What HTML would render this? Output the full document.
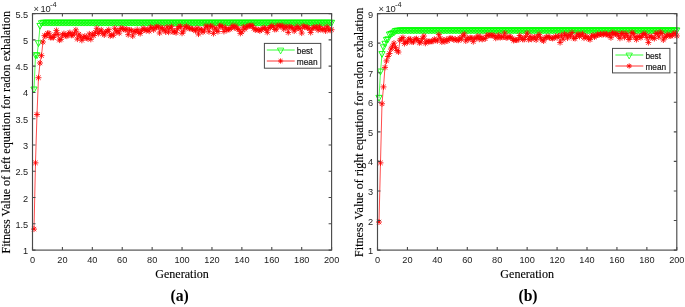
<!DOCTYPE html>
<html><head><meta charset="utf-8"><style>
html,body{margin:0;padding:0;background:#fff;}
svg{display:block;filter:blur(0.35px);}
.tl{font-family:"Liberation Sans", sans-serif;font-size:9.2px;fill:#1a1a1a;}
.lg{font-family:"Liberation Sans", sans-serif;font-size:8.3px;fill:#1a1a1a;stroke:#1a1a1a;stroke-width:0.2px;}
.lab{font-family:"Liberation Serif", serif;font-size:12.1px;fill:#000;stroke:#000;stroke-width:0.12px;}
.cap{font-family:"Liberation Serif", serif;font-size:15.7px;font-weight:bold;fill:#000;}
</style></head><body>
<svg width="685" height="307" viewBox="0 0 685 307">
<polyline points="34.00,89.81 35.49,55.64 36.99,55.64 38.48,43.56 39.98,26.21 41.47,23.59 42.97,23.06 44.46,23.06 45.96,23.06 47.45,23.06 48.95,23.06 50.45,23.06 51.94,23.06 53.44,23.06 54.93,23.06 56.43,23.06 57.92,23.06 59.42,23.06 60.91,23.06 62.41,23.06 63.91,23.06 65.40,23.06 66.90,23.06 68.39,23.06 69.89,23.06 71.38,23.06 72.88,23.06 74.37,23.06 75.87,23.06 77.37,23.06 78.86,23.06 80.36,23.06 81.85,23.06 83.35,23.06 84.84,23.06 86.34,23.06 87.83,23.06 89.33,23.06 90.82,23.06 92.32,23.06 93.82,23.06 95.31,23.06 96.81,23.06 98.30,23.06 99.80,23.06 101.29,23.06 102.79,23.06 104.28,23.06 105.78,23.06 107.28,23.06 108.77,23.06 110.27,23.06 111.76,23.06 113.26,23.06 114.75,23.06 116.25,23.06 117.74,23.06 119.24,23.06 120.73,23.06 122.23,23.06 123.73,23.06 125.22,23.06 126.72,23.06 128.21,23.06 129.71,23.06 131.20,23.06 132.70,23.06 134.19,23.06 135.69,23.06 137.19,23.06 138.68,23.06 140.18,23.06 141.67,23.06 143.17,23.06 144.66,23.06 146.16,23.06 147.65,23.06 149.15,23.06 150.64,23.06 152.14,23.06 153.64,23.06 155.13,23.06 156.63,23.06 158.12,23.06 159.62,23.06 161.11,23.06 162.61,23.06 164.10,23.06 165.60,23.06 167.10,23.06 168.59,23.06 170.09,23.06 171.58,23.06 173.08,23.06 174.57,23.06 176.07,23.06 177.56,23.06 179.06,23.06 180.55,23.06 182.05,23.06 183.55,23.06 185.04,23.06 186.54,23.06 188.03,23.06 189.53,23.06 191.02,23.06 192.52,23.06 194.01,23.06 195.51,23.06 197.00,23.06 198.50,23.06 200.00,23.06 201.49,23.06 202.99,23.06 204.48,23.06 205.98,23.06 207.47,23.06 208.97,23.06 210.46,23.06 211.96,23.06 213.46,23.06 214.95,23.06 216.45,23.06 217.94,23.06 219.44,23.06 220.93,23.06 222.43,23.06 223.92,23.06 225.42,23.06 226.91,23.06 228.41,23.06 229.91,23.06 231.40,23.06 232.90,23.06 234.39,23.06 235.89,23.06 237.38,23.06 238.88,23.06 240.37,23.06 241.87,23.06 243.37,23.06 244.86,23.06 246.36,23.06 247.85,23.06 249.35,23.06 250.84,23.06 252.34,23.06 253.83,23.06 255.33,23.06 256.82,23.06 258.32,23.06 259.82,23.06 261.31,23.06 262.81,23.06 264.30,23.06 265.80,23.06 267.29,23.06 268.79,23.06 270.28,23.06 271.78,23.06 273.28,23.06 274.77,23.06 276.27,23.06 277.76,23.06 279.26,23.06 280.75,23.06 282.25,23.06 283.74,23.06 285.24,23.06 286.74,23.06 288.23,23.06 289.73,23.06 291.22,23.06 292.72,23.06 294.21,23.06 295.71,23.06 297.20,23.06 298.70,23.06 300.19,23.06 301.69,23.06 303.19,23.06 304.68,23.06 306.18,23.06 307.67,23.06 309.17,23.06 310.66,23.06 312.16,23.06 313.65,23.06 315.15,23.06 316.65,23.06 318.14,23.06 319.64,23.06 321.13,23.06 322.63,23.06 324.12,23.06 325.62,23.06 327.11,23.06 328.61,23.06 330.10,23.06 331.60,23.06" fill="none" stroke="#00ff00" stroke-width="0.7"/>
<path d="M30.90 87.01h6.20l-3.10 5.80zM32.39 52.84h6.20l-3.10 5.80zM33.89 52.84h6.20l-3.10 5.80zM35.38 40.76h6.20l-3.10 5.80zM36.88 23.41h6.20l-3.10 5.80zM38.37 20.79h6.20l-3.10 5.80zM39.87 20.26h6.20l-3.10 5.80zM41.36 20.26h6.20l-3.10 5.80zM42.86 20.26h6.20l-3.10 5.80zM44.35 20.26h6.20l-3.10 5.80zM45.85 20.26h6.20l-3.10 5.80zM47.35 20.26h6.20l-3.10 5.80zM48.84 20.26h6.20l-3.10 5.80zM50.34 20.26h6.20l-3.10 5.80zM51.83 20.26h6.20l-3.10 5.80zM53.33 20.26h6.20l-3.10 5.80zM54.82 20.26h6.20l-3.10 5.80zM56.32 20.26h6.20l-3.10 5.80zM57.81 20.26h6.20l-3.10 5.80zM59.31 20.26h6.20l-3.10 5.80zM60.81 20.26h6.20l-3.10 5.80zM62.30 20.26h6.20l-3.10 5.80zM63.80 20.26h6.20l-3.10 5.80zM65.29 20.26h6.20l-3.10 5.80zM66.79 20.26h6.20l-3.10 5.80zM68.28 20.26h6.20l-3.10 5.80zM69.78 20.26h6.20l-3.10 5.80zM71.27 20.26h6.20l-3.10 5.80zM72.77 20.26h6.20l-3.10 5.80zM74.27 20.26h6.20l-3.10 5.80zM75.76 20.26h6.20l-3.10 5.80zM77.26 20.26h6.20l-3.10 5.80zM78.75 20.26h6.20l-3.10 5.80zM80.25 20.26h6.20l-3.10 5.80zM81.74 20.26h6.20l-3.10 5.80zM83.24 20.26h6.20l-3.10 5.80zM84.73 20.26h6.20l-3.10 5.80zM86.23 20.26h6.20l-3.10 5.80zM87.72 20.26h6.20l-3.10 5.80zM89.22 20.26h6.20l-3.10 5.80zM90.72 20.26h6.20l-3.10 5.80zM92.21 20.26h6.20l-3.10 5.80zM93.71 20.26h6.20l-3.10 5.80zM95.20 20.26h6.20l-3.10 5.80zM96.70 20.26h6.20l-3.10 5.80zM98.19 20.26h6.20l-3.10 5.80zM99.69 20.26h6.20l-3.10 5.80zM101.18 20.26h6.20l-3.10 5.80zM102.68 20.26h6.20l-3.10 5.80zM104.18 20.26h6.20l-3.10 5.80zM105.67 20.26h6.20l-3.10 5.80zM107.17 20.26h6.20l-3.10 5.80zM108.66 20.26h6.20l-3.10 5.80zM110.16 20.26h6.20l-3.10 5.80zM111.65 20.26h6.20l-3.10 5.80zM113.15 20.26h6.20l-3.10 5.80zM114.64 20.26h6.20l-3.10 5.80zM116.14 20.26h6.20l-3.10 5.80zM117.63 20.26h6.20l-3.10 5.80zM119.13 20.26h6.20l-3.10 5.80zM120.63 20.26h6.20l-3.10 5.80zM122.12 20.26h6.20l-3.10 5.80zM123.62 20.26h6.20l-3.10 5.80zM125.11 20.26h6.20l-3.10 5.80zM126.61 20.26h6.20l-3.10 5.80zM128.10 20.26h6.20l-3.10 5.80zM129.60 20.26h6.20l-3.10 5.80zM131.09 20.26h6.20l-3.10 5.80zM132.59 20.26h6.20l-3.10 5.80zM134.09 20.26h6.20l-3.10 5.80zM135.58 20.26h6.20l-3.10 5.80zM137.08 20.26h6.20l-3.10 5.80zM138.57 20.26h6.20l-3.10 5.80zM140.07 20.26h6.20l-3.10 5.80zM141.56 20.26h6.20l-3.10 5.80zM143.06 20.26h6.20l-3.10 5.80zM144.55 20.26h6.20l-3.10 5.80zM146.05 20.26h6.20l-3.10 5.80zM147.54 20.26h6.20l-3.10 5.80zM149.04 20.26h6.20l-3.10 5.80zM150.54 20.26h6.20l-3.10 5.80zM152.03 20.26h6.20l-3.10 5.80zM153.53 20.26h6.20l-3.10 5.80zM155.02 20.26h6.20l-3.10 5.80zM156.52 20.26h6.20l-3.10 5.80zM158.01 20.26h6.20l-3.10 5.80zM159.51 20.26h6.20l-3.10 5.80zM161.00 20.26h6.20l-3.10 5.80zM162.50 20.26h6.20l-3.10 5.80zM164.00 20.26h6.20l-3.10 5.80zM165.49 20.26h6.20l-3.10 5.80zM166.99 20.26h6.20l-3.10 5.80zM168.48 20.26h6.20l-3.10 5.80zM169.98 20.26h6.20l-3.10 5.80zM171.47 20.26h6.20l-3.10 5.80zM172.97 20.26h6.20l-3.10 5.80zM174.46 20.26h6.20l-3.10 5.80zM175.96 20.26h6.20l-3.10 5.80zM177.45 20.26h6.20l-3.10 5.80zM178.95 20.26h6.20l-3.10 5.80zM180.45 20.26h6.20l-3.10 5.80zM181.94 20.26h6.20l-3.10 5.80zM183.44 20.26h6.20l-3.10 5.80zM184.93 20.26h6.20l-3.10 5.80zM186.43 20.26h6.20l-3.10 5.80zM187.92 20.26h6.20l-3.10 5.80zM189.42 20.26h6.20l-3.10 5.80zM190.91 20.26h6.20l-3.10 5.80zM192.41 20.26h6.20l-3.10 5.80zM193.91 20.26h6.20l-3.10 5.80zM195.40 20.26h6.20l-3.10 5.80zM196.90 20.26h6.20l-3.10 5.80zM198.39 20.26h6.20l-3.10 5.80zM199.89 20.26h6.20l-3.10 5.80zM201.38 20.26h6.20l-3.10 5.80zM202.88 20.26h6.20l-3.10 5.80zM204.37 20.26h6.20l-3.10 5.80zM205.87 20.26h6.20l-3.10 5.80zM207.36 20.26h6.20l-3.10 5.80zM208.86 20.26h6.20l-3.10 5.80zM210.36 20.26h6.20l-3.10 5.80zM211.85 20.26h6.20l-3.10 5.80zM213.35 20.26h6.20l-3.10 5.80zM214.84 20.26h6.20l-3.10 5.80zM216.34 20.26h6.20l-3.10 5.80zM217.83 20.26h6.20l-3.10 5.80zM219.33 20.26h6.20l-3.10 5.80zM220.82 20.26h6.20l-3.10 5.80zM222.32 20.26h6.20l-3.10 5.80zM223.81 20.26h6.20l-3.10 5.80zM225.31 20.26h6.20l-3.10 5.80zM226.81 20.26h6.20l-3.10 5.80zM228.30 20.26h6.20l-3.10 5.80zM229.80 20.26h6.20l-3.10 5.80zM231.29 20.26h6.20l-3.10 5.80zM232.79 20.26h6.20l-3.10 5.80zM234.28 20.26h6.20l-3.10 5.80zM235.78 20.26h6.20l-3.10 5.80zM237.27 20.26h6.20l-3.10 5.80zM238.77 20.26h6.20l-3.10 5.80zM240.27 20.26h6.20l-3.10 5.80zM241.76 20.26h6.20l-3.10 5.80zM243.26 20.26h6.20l-3.10 5.80zM244.75 20.26h6.20l-3.10 5.80zM246.25 20.26h6.20l-3.10 5.80zM247.74 20.26h6.20l-3.10 5.80zM249.24 20.26h6.20l-3.10 5.80zM250.73 20.26h6.20l-3.10 5.80zM252.23 20.26h6.20l-3.10 5.80zM253.72 20.26h6.20l-3.10 5.80zM255.22 20.26h6.20l-3.10 5.80zM256.72 20.26h6.20l-3.10 5.80zM258.21 20.26h6.20l-3.10 5.80zM259.71 20.26h6.20l-3.10 5.80zM261.20 20.26h6.20l-3.10 5.80zM262.70 20.26h6.20l-3.10 5.80zM264.19 20.26h6.20l-3.10 5.80zM265.69 20.26h6.20l-3.10 5.80zM267.18 20.26h6.20l-3.10 5.80zM268.68 20.26h6.20l-3.10 5.80zM270.18 20.26h6.20l-3.10 5.80zM271.67 20.26h6.20l-3.10 5.80zM273.17 20.26h6.20l-3.10 5.80zM274.66 20.26h6.20l-3.10 5.80zM276.16 20.26h6.20l-3.10 5.80zM277.65 20.26h6.20l-3.10 5.80zM279.15 20.26h6.20l-3.10 5.80zM280.64 20.26h6.20l-3.10 5.80zM282.14 20.26h6.20l-3.10 5.80zM283.63 20.26h6.20l-3.10 5.80zM285.13 20.26h6.20l-3.10 5.80zM286.63 20.26h6.20l-3.10 5.80zM288.12 20.26h6.20l-3.10 5.80zM289.62 20.26h6.20l-3.10 5.80zM291.11 20.26h6.20l-3.10 5.80zM292.61 20.26h6.20l-3.10 5.80zM294.10 20.26h6.20l-3.10 5.80zM295.60 20.26h6.20l-3.10 5.80zM297.09 20.26h6.20l-3.10 5.80zM298.59 20.26h6.20l-3.10 5.80zM300.09 20.26h6.20l-3.10 5.80zM301.58 20.26h6.20l-3.10 5.80zM303.08 20.26h6.20l-3.10 5.80zM304.57 20.26h6.20l-3.10 5.80zM306.07 20.26h6.20l-3.10 5.80zM307.56 20.26h6.20l-3.10 5.80zM309.06 20.26h6.20l-3.10 5.80zM310.55 20.26h6.20l-3.10 5.80zM312.05 20.26h6.20l-3.10 5.80zM313.55 20.26h6.20l-3.10 5.80zM315.04 20.26h6.20l-3.10 5.80zM316.54 20.26h6.20l-3.10 5.80zM318.03 20.26h6.20l-3.10 5.80zM319.53 20.26h6.20l-3.10 5.80zM321.02 20.26h6.20l-3.10 5.80zM322.52 20.26h6.20l-3.10 5.80zM324.01 20.26h6.20l-3.10 5.80zM325.51 20.26h6.20l-3.10 5.80zM327.00 20.26h6.20l-3.10 5.80zM328.50 20.26h6.20l-3.10 5.80z" fill="none" stroke="#00ff00" stroke-width="0.9"/>
<polyline points="34.00,229.08 35.49,162.86 36.99,114.51 38.48,77.72 39.98,63.00 41.47,55.64 42.97,41.98 44.46,35.67 45.96,36.04 47.45,33.33 48.95,33.23 50.45,37.43 51.94,37.42 53.44,37.50 54.93,34.57 56.43,30.42 57.92,34.33 59.42,40.11 60.91,39.35 62.41,34.97 63.91,33.56 65.40,35.60 66.90,36.20 68.39,33.67 69.89,32.62 71.38,35.31 72.88,35.15 74.37,33.21 75.87,29.89 77.37,39.10 78.86,34.17 80.36,36.72 81.85,40.30 83.35,37.37 84.84,36.14 86.34,38.09 87.83,38.55 89.33,33.89 90.82,39.35 92.32,34.18 93.82,35.53 95.31,32.27 96.81,28.32 98.30,33.56 99.80,31.23 101.29,29.85 102.79,33.34 104.28,35.00 105.78,31.84 107.28,31.30 108.77,29.66 110.27,35.81 111.76,34.84 113.26,35.34 114.75,28.32 116.25,31.96 117.74,30.50 119.24,33.10 120.73,28.39 122.23,28.41 123.73,29.25 125.22,29.77 126.72,29.10 128.21,34.66 129.71,30.00 131.20,30.19 132.70,36.06 134.19,31.21 135.69,31.77 137.19,29.55 138.68,32.41 140.18,33.57 141.67,30.64 143.17,28.32 144.66,29.58 146.16,30.60 147.65,29.37 149.15,31.16 150.64,27.15 152.14,27.97 153.64,29.92 155.13,27.79 156.63,26.84 158.12,26.82 159.62,32.99 161.11,27.75 162.61,28.20 164.10,30.06 165.60,31.84 167.10,27.06 168.59,32.21 170.09,28.04 171.58,26.62 173.08,31.99 174.57,31.11 176.07,32.73 177.56,28.67 179.06,26.51 180.55,26.49 182.05,33.26 183.55,31.00 185.04,27.14 186.54,26.40 188.03,27.84 189.53,28.32 191.02,28.58 192.52,29.05 194.01,29.73 195.51,30.70 197.00,28.14 198.50,34.10 200.00,29.08 201.49,29.79 202.99,32.09 204.48,29.97 205.98,26.12 207.47,27.00 208.97,31.74 210.46,26.05 211.96,26.39 213.46,33.57 214.95,27.95 216.45,30.01 217.94,31.60 219.44,25.90 220.93,25.87 222.43,27.00 223.92,31.47 225.42,27.41 226.91,30.12 228.41,29.26 229.91,29.12 231.40,27.64 232.90,25.75 234.39,27.65 235.89,26.30 237.38,28.85 238.88,29.37 240.37,33.35 241.87,31.85 243.37,27.01 244.86,29.14 246.36,26.92 247.85,26.46 249.35,25.71 250.84,25.73 252.34,25.73 253.83,28.32 255.33,29.92 256.82,29.37 258.32,29.71 259.82,30.87 261.31,29.64 262.81,28.39 264.30,27.67 265.80,29.27 267.29,32.35 268.79,28.05 270.28,27.30 271.78,25.65 273.28,26.69 274.77,29.46 276.27,29.21 277.76,25.65 279.26,25.65 280.75,26.48 282.25,25.64 283.74,29.06 285.24,27.28 286.74,26.78 288.23,32.52 289.73,26.64 291.22,27.36 292.72,27.94 294.21,31.08 295.71,28.87 297.20,26.48 298.70,27.99 300.19,28.70 301.69,33.05 303.19,26.00 304.68,26.99 306.18,27.15 307.67,27.26 309.17,28.82 310.66,32.52 312.16,28.82 313.65,27.21 315.15,27.59 316.65,27.02 318.14,30.15 319.64,26.59 321.13,29.32 322.63,29.53 324.12,28.54 325.62,30.94 327.11,26.74 328.61,29.13 330.10,30.25 331.60,29.72" fill="none" stroke="#ff0000" stroke-width="0.7"/>
<path d="M31.00 229.08h6m-3 -3v6m-2.2 -5.2l4.4 4.4m0 -4.4l-4.4 4.4M32.49 162.86h6m-3 -3v6m-2.2 -5.2l4.4 4.4m0 -4.4l-4.4 4.4M33.99 114.51h6m-3 -3v6m-2.2 -5.2l4.4 4.4m0 -4.4l-4.4 4.4M35.48 77.72h6m-3 -3v6m-2.2 -5.2l4.4 4.4m0 -4.4l-4.4 4.4M36.98 63.00h6m-3 -3v6m-2.2 -5.2l4.4 4.4m0 -4.4l-4.4 4.4M38.47 55.64h6m-3 -3v6m-2.2 -5.2l4.4 4.4m0 -4.4l-4.4 4.4M39.97 41.98h6m-3 -3v6m-2.2 -5.2l4.4 4.4m0 -4.4l-4.4 4.4M41.46 35.67h6m-3 -3v6m-2.2 -5.2l4.4 4.4m0 -4.4l-4.4 4.4M42.96 36.04h6m-3 -3v6m-2.2 -5.2l4.4 4.4m0 -4.4l-4.4 4.4M44.45 33.33h6m-3 -3v6m-2.2 -5.2l4.4 4.4m0 -4.4l-4.4 4.4M45.95 33.23h6m-3 -3v6m-2.2 -5.2l4.4 4.4m0 -4.4l-4.4 4.4M47.45 37.43h6m-3 -3v6m-2.2 -5.2l4.4 4.4m0 -4.4l-4.4 4.4M48.94 37.42h6m-3 -3v6m-2.2 -5.2l4.4 4.4m0 -4.4l-4.4 4.4M50.44 37.50h6m-3 -3v6m-2.2 -5.2l4.4 4.4m0 -4.4l-4.4 4.4M51.93 34.57h6m-3 -3v6m-2.2 -5.2l4.4 4.4m0 -4.4l-4.4 4.4M53.43 30.42h6m-3 -3v6m-2.2 -5.2l4.4 4.4m0 -4.4l-4.4 4.4M54.92 34.33h6m-3 -3v6m-2.2 -5.2l4.4 4.4m0 -4.4l-4.4 4.4M56.42 40.11h6m-3 -3v6m-2.2 -5.2l4.4 4.4m0 -4.4l-4.4 4.4M57.91 39.35h6m-3 -3v6m-2.2 -5.2l4.4 4.4m0 -4.4l-4.4 4.4M59.41 34.97h6m-3 -3v6m-2.2 -5.2l4.4 4.4m0 -4.4l-4.4 4.4M60.91 33.56h6m-3 -3v6m-2.2 -5.2l4.4 4.4m0 -4.4l-4.4 4.4M62.40 35.60h6m-3 -3v6m-2.2 -5.2l4.4 4.4m0 -4.4l-4.4 4.4M63.90 36.20h6m-3 -3v6m-2.2 -5.2l4.4 4.4m0 -4.4l-4.4 4.4M65.39 33.67h6m-3 -3v6m-2.2 -5.2l4.4 4.4m0 -4.4l-4.4 4.4M66.89 32.62h6m-3 -3v6m-2.2 -5.2l4.4 4.4m0 -4.4l-4.4 4.4M68.38 35.31h6m-3 -3v6m-2.2 -5.2l4.4 4.4m0 -4.4l-4.4 4.4M69.88 35.15h6m-3 -3v6m-2.2 -5.2l4.4 4.4m0 -4.4l-4.4 4.4M71.37 33.21h6m-3 -3v6m-2.2 -5.2l4.4 4.4m0 -4.4l-4.4 4.4M72.87 29.89h6m-3 -3v6m-2.2 -5.2l4.4 4.4m0 -4.4l-4.4 4.4M74.37 39.10h6m-3 -3v6m-2.2 -5.2l4.4 4.4m0 -4.4l-4.4 4.4M75.86 34.17h6m-3 -3v6m-2.2 -5.2l4.4 4.4m0 -4.4l-4.4 4.4M77.36 36.72h6m-3 -3v6m-2.2 -5.2l4.4 4.4m0 -4.4l-4.4 4.4M78.85 40.30h6m-3 -3v6m-2.2 -5.2l4.4 4.4m0 -4.4l-4.4 4.4M80.35 37.37h6m-3 -3v6m-2.2 -5.2l4.4 4.4m0 -4.4l-4.4 4.4M81.84 36.14h6m-3 -3v6m-2.2 -5.2l4.4 4.4m0 -4.4l-4.4 4.4M83.34 38.09h6m-3 -3v6m-2.2 -5.2l4.4 4.4m0 -4.4l-4.4 4.4M84.83 38.55h6m-3 -3v6m-2.2 -5.2l4.4 4.4m0 -4.4l-4.4 4.4M86.33 33.89h6m-3 -3v6m-2.2 -5.2l4.4 4.4m0 -4.4l-4.4 4.4M87.82 39.35h6m-3 -3v6m-2.2 -5.2l4.4 4.4m0 -4.4l-4.4 4.4M89.32 34.18h6m-3 -3v6m-2.2 -5.2l4.4 4.4m0 -4.4l-4.4 4.4M90.82 35.53h6m-3 -3v6m-2.2 -5.2l4.4 4.4m0 -4.4l-4.4 4.4M92.31 32.27h6m-3 -3v6m-2.2 -5.2l4.4 4.4m0 -4.4l-4.4 4.4M93.81 28.32h6m-3 -3v6m-2.2 -5.2l4.4 4.4m0 -4.4l-4.4 4.4M95.30 33.56h6m-3 -3v6m-2.2 -5.2l4.4 4.4m0 -4.4l-4.4 4.4M96.80 31.23h6m-3 -3v6m-2.2 -5.2l4.4 4.4m0 -4.4l-4.4 4.4M98.29 29.85h6m-3 -3v6m-2.2 -5.2l4.4 4.4m0 -4.4l-4.4 4.4M99.79 33.34h6m-3 -3v6m-2.2 -5.2l4.4 4.4m0 -4.4l-4.4 4.4M101.28 35.00h6m-3 -3v6m-2.2 -5.2l4.4 4.4m0 -4.4l-4.4 4.4M102.78 31.84h6m-3 -3v6m-2.2 -5.2l4.4 4.4m0 -4.4l-4.4 4.4M104.28 31.30h6m-3 -3v6m-2.2 -5.2l4.4 4.4m0 -4.4l-4.4 4.4M105.77 29.66h6m-3 -3v6m-2.2 -5.2l4.4 4.4m0 -4.4l-4.4 4.4M107.27 35.81h6m-3 -3v6m-2.2 -5.2l4.4 4.4m0 -4.4l-4.4 4.4M108.76 34.84h6m-3 -3v6m-2.2 -5.2l4.4 4.4m0 -4.4l-4.4 4.4M110.26 35.34h6m-3 -3v6m-2.2 -5.2l4.4 4.4m0 -4.4l-4.4 4.4M111.75 28.32h6m-3 -3v6m-2.2 -5.2l4.4 4.4m0 -4.4l-4.4 4.4M113.25 31.96h6m-3 -3v6m-2.2 -5.2l4.4 4.4m0 -4.4l-4.4 4.4M114.74 30.50h6m-3 -3v6m-2.2 -5.2l4.4 4.4m0 -4.4l-4.4 4.4M116.24 33.10h6m-3 -3v6m-2.2 -5.2l4.4 4.4m0 -4.4l-4.4 4.4M117.73 28.39h6m-3 -3v6m-2.2 -5.2l4.4 4.4m0 -4.4l-4.4 4.4M119.23 28.41h6m-3 -3v6m-2.2 -5.2l4.4 4.4m0 -4.4l-4.4 4.4M120.73 29.25h6m-3 -3v6m-2.2 -5.2l4.4 4.4m0 -4.4l-4.4 4.4M122.22 29.77h6m-3 -3v6m-2.2 -5.2l4.4 4.4m0 -4.4l-4.4 4.4M123.72 29.10h6m-3 -3v6m-2.2 -5.2l4.4 4.4m0 -4.4l-4.4 4.4M125.21 34.66h6m-3 -3v6m-2.2 -5.2l4.4 4.4m0 -4.4l-4.4 4.4M126.71 30.00h6m-3 -3v6m-2.2 -5.2l4.4 4.4m0 -4.4l-4.4 4.4M128.20 30.19h6m-3 -3v6m-2.2 -5.2l4.4 4.4m0 -4.4l-4.4 4.4M129.70 36.06h6m-3 -3v6m-2.2 -5.2l4.4 4.4m0 -4.4l-4.4 4.4M131.19 31.21h6m-3 -3v6m-2.2 -5.2l4.4 4.4m0 -4.4l-4.4 4.4M132.69 31.77h6m-3 -3v6m-2.2 -5.2l4.4 4.4m0 -4.4l-4.4 4.4M134.19 29.55h6m-3 -3v6m-2.2 -5.2l4.4 4.4m0 -4.4l-4.4 4.4M135.68 32.41h6m-3 -3v6m-2.2 -5.2l4.4 4.4m0 -4.4l-4.4 4.4M137.18 33.57h6m-3 -3v6m-2.2 -5.2l4.4 4.4m0 -4.4l-4.4 4.4M138.67 30.64h6m-3 -3v6m-2.2 -5.2l4.4 4.4m0 -4.4l-4.4 4.4M140.17 28.32h6m-3 -3v6m-2.2 -5.2l4.4 4.4m0 -4.4l-4.4 4.4M141.66 29.58h6m-3 -3v6m-2.2 -5.2l4.4 4.4m0 -4.4l-4.4 4.4M143.16 30.60h6m-3 -3v6m-2.2 -5.2l4.4 4.4m0 -4.4l-4.4 4.4M144.65 29.37h6m-3 -3v6m-2.2 -5.2l4.4 4.4m0 -4.4l-4.4 4.4M146.15 31.16h6m-3 -3v6m-2.2 -5.2l4.4 4.4m0 -4.4l-4.4 4.4M147.64 27.15h6m-3 -3v6m-2.2 -5.2l4.4 4.4m0 -4.4l-4.4 4.4M149.14 27.97h6m-3 -3v6m-2.2 -5.2l4.4 4.4m0 -4.4l-4.4 4.4M150.64 29.92h6m-3 -3v6m-2.2 -5.2l4.4 4.4m0 -4.4l-4.4 4.4M152.13 27.79h6m-3 -3v6m-2.2 -5.2l4.4 4.4m0 -4.4l-4.4 4.4M153.63 26.84h6m-3 -3v6m-2.2 -5.2l4.4 4.4m0 -4.4l-4.4 4.4M155.12 26.82h6m-3 -3v6m-2.2 -5.2l4.4 4.4m0 -4.4l-4.4 4.4M156.62 32.99h6m-3 -3v6m-2.2 -5.2l4.4 4.4m0 -4.4l-4.4 4.4M158.11 27.75h6m-3 -3v6m-2.2 -5.2l4.4 4.4m0 -4.4l-4.4 4.4M159.61 28.20h6m-3 -3v6m-2.2 -5.2l4.4 4.4m0 -4.4l-4.4 4.4M161.10 30.06h6m-3 -3v6m-2.2 -5.2l4.4 4.4m0 -4.4l-4.4 4.4M162.60 31.84h6m-3 -3v6m-2.2 -5.2l4.4 4.4m0 -4.4l-4.4 4.4M164.10 27.06h6m-3 -3v6m-2.2 -5.2l4.4 4.4m0 -4.4l-4.4 4.4M165.59 32.21h6m-3 -3v6m-2.2 -5.2l4.4 4.4m0 -4.4l-4.4 4.4M167.09 28.04h6m-3 -3v6m-2.2 -5.2l4.4 4.4m0 -4.4l-4.4 4.4M168.58 26.62h6m-3 -3v6m-2.2 -5.2l4.4 4.4m0 -4.4l-4.4 4.4M170.08 31.99h6m-3 -3v6m-2.2 -5.2l4.4 4.4m0 -4.4l-4.4 4.4M171.57 31.11h6m-3 -3v6m-2.2 -5.2l4.4 4.4m0 -4.4l-4.4 4.4M173.07 32.73h6m-3 -3v6m-2.2 -5.2l4.4 4.4m0 -4.4l-4.4 4.4M174.56 28.67h6m-3 -3v6m-2.2 -5.2l4.4 4.4m0 -4.4l-4.4 4.4M176.06 26.51h6m-3 -3v6m-2.2 -5.2l4.4 4.4m0 -4.4l-4.4 4.4M177.55 26.49h6m-3 -3v6m-2.2 -5.2l4.4 4.4m0 -4.4l-4.4 4.4M179.05 33.26h6m-3 -3v6m-2.2 -5.2l4.4 4.4m0 -4.4l-4.4 4.4M180.55 31.00h6m-3 -3v6m-2.2 -5.2l4.4 4.4m0 -4.4l-4.4 4.4M182.04 27.14h6m-3 -3v6m-2.2 -5.2l4.4 4.4m0 -4.4l-4.4 4.4M183.54 26.40h6m-3 -3v6m-2.2 -5.2l4.4 4.4m0 -4.4l-4.4 4.4M185.03 27.84h6m-3 -3v6m-2.2 -5.2l4.4 4.4m0 -4.4l-4.4 4.4M186.53 28.32h6m-3 -3v6m-2.2 -5.2l4.4 4.4m0 -4.4l-4.4 4.4M188.02 28.58h6m-3 -3v6m-2.2 -5.2l4.4 4.4m0 -4.4l-4.4 4.4M189.52 29.05h6m-3 -3v6m-2.2 -5.2l4.4 4.4m0 -4.4l-4.4 4.4M191.01 29.73h6m-3 -3v6m-2.2 -5.2l4.4 4.4m0 -4.4l-4.4 4.4M192.51 30.70h6m-3 -3v6m-2.2 -5.2l4.4 4.4m0 -4.4l-4.4 4.4M194.00 28.14h6m-3 -3v6m-2.2 -5.2l4.4 4.4m0 -4.4l-4.4 4.4M195.50 34.10h6m-3 -3v6m-2.2 -5.2l4.4 4.4m0 -4.4l-4.4 4.4M197.00 29.08h6m-3 -3v6m-2.2 -5.2l4.4 4.4m0 -4.4l-4.4 4.4M198.49 29.79h6m-3 -3v6m-2.2 -5.2l4.4 4.4m0 -4.4l-4.4 4.4M199.99 32.09h6m-3 -3v6m-2.2 -5.2l4.4 4.4m0 -4.4l-4.4 4.4M201.48 29.97h6m-3 -3v6m-2.2 -5.2l4.4 4.4m0 -4.4l-4.4 4.4M202.98 26.12h6m-3 -3v6m-2.2 -5.2l4.4 4.4m0 -4.4l-4.4 4.4M204.47 27.00h6m-3 -3v6m-2.2 -5.2l4.4 4.4m0 -4.4l-4.4 4.4M205.97 31.74h6m-3 -3v6m-2.2 -5.2l4.4 4.4m0 -4.4l-4.4 4.4M207.46 26.05h6m-3 -3v6m-2.2 -5.2l4.4 4.4m0 -4.4l-4.4 4.4M208.96 26.39h6m-3 -3v6m-2.2 -5.2l4.4 4.4m0 -4.4l-4.4 4.4M210.46 33.57h6m-3 -3v6m-2.2 -5.2l4.4 4.4m0 -4.4l-4.4 4.4M211.95 27.95h6m-3 -3v6m-2.2 -5.2l4.4 4.4m0 -4.4l-4.4 4.4M213.45 30.01h6m-3 -3v6m-2.2 -5.2l4.4 4.4m0 -4.4l-4.4 4.4M214.94 31.60h6m-3 -3v6m-2.2 -5.2l4.4 4.4m0 -4.4l-4.4 4.4M216.44 25.90h6m-3 -3v6m-2.2 -5.2l4.4 4.4m0 -4.4l-4.4 4.4M217.93 25.87h6m-3 -3v6m-2.2 -5.2l4.4 4.4m0 -4.4l-4.4 4.4M219.43 27.00h6m-3 -3v6m-2.2 -5.2l4.4 4.4m0 -4.4l-4.4 4.4M220.92 31.47h6m-3 -3v6m-2.2 -5.2l4.4 4.4m0 -4.4l-4.4 4.4M222.42 27.41h6m-3 -3v6m-2.2 -5.2l4.4 4.4m0 -4.4l-4.4 4.4M223.91 30.12h6m-3 -3v6m-2.2 -5.2l4.4 4.4m0 -4.4l-4.4 4.4M225.41 29.26h6m-3 -3v6m-2.2 -5.2l4.4 4.4m0 -4.4l-4.4 4.4M226.91 29.12h6m-3 -3v6m-2.2 -5.2l4.4 4.4m0 -4.4l-4.4 4.4M228.40 27.64h6m-3 -3v6m-2.2 -5.2l4.4 4.4m0 -4.4l-4.4 4.4M229.90 25.75h6m-3 -3v6m-2.2 -5.2l4.4 4.4m0 -4.4l-4.4 4.4M231.39 27.65h6m-3 -3v6m-2.2 -5.2l4.4 4.4m0 -4.4l-4.4 4.4M232.89 26.30h6m-3 -3v6m-2.2 -5.2l4.4 4.4m0 -4.4l-4.4 4.4M234.38 28.85h6m-3 -3v6m-2.2 -5.2l4.4 4.4m0 -4.4l-4.4 4.4M235.88 29.37h6m-3 -3v6m-2.2 -5.2l4.4 4.4m0 -4.4l-4.4 4.4M237.37 33.35h6m-3 -3v6m-2.2 -5.2l4.4 4.4m0 -4.4l-4.4 4.4M238.87 31.85h6m-3 -3v6m-2.2 -5.2l4.4 4.4m0 -4.4l-4.4 4.4M240.37 27.01h6m-3 -3v6m-2.2 -5.2l4.4 4.4m0 -4.4l-4.4 4.4M241.86 29.14h6m-3 -3v6m-2.2 -5.2l4.4 4.4m0 -4.4l-4.4 4.4M243.36 26.92h6m-3 -3v6m-2.2 -5.2l4.4 4.4m0 -4.4l-4.4 4.4M244.85 26.46h6m-3 -3v6m-2.2 -5.2l4.4 4.4m0 -4.4l-4.4 4.4M246.35 25.71h6m-3 -3v6m-2.2 -5.2l4.4 4.4m0 -4.4l-4.4 4.4M247.84 25.73h6m-3 -3v6m-2.2 -5.2l4.4 4.4m0 -4.4l-4.4 4.4M249.34 25.73h6m-3 -3v6m-2.2 -5.2l4.4 4.4m0 -4.4l-4.4 4.4M250.83 28.32h6m-3 -3v6m-2.2 -5.2l4.4 4.4m0 -4.4l-4.4 4.4M252.33 29.92h6m-3 -3v6m-2.2 -5.2l4.4 4.4m0 -4.4l-4.4 4.4M253.82 29.37h6m-3 -3v6m-2.2 -5.2l4.4 4.4m0 -4.4l-4.4 4.4M255.32 29.71h6m-3 -3v6m-2.2 -5.2l4.4 4.4m0 -4.4l-4.4 4.4M256.82 30.87h6m-3 -3v6m-2.2 -5.2l4.4 4.4m0 -4.4l-4.4 4.4M258.31 29.64h6m-3 -3v6m-2.2 -5.2l4.4 4.4m0 -4.4l-4.4 4.4M259.81 28.39h6m-3 -3v6m-2.2 -5.2l4.4 4.4m0 -4.4l-4.4 4.4M261.30 27.67h6m-3 -3v6m-2.2 -5.2l4.4 4.4m0 -4.4l-4.4 4.4M262.80 29.27h6m-3 -3v6m-2.2 -5.2l4.4 4.4m0 -4.4l-4.4 4.4M264.29 32.35h6m-3 -3v6m-2.2 -5.2l4.4 4.4m0 -4.4l-4.4 4.4M265.79 28.05h6m-3 -3v6m-2.2 -5.2l4.4 4.4m0 -4.4l-4.4 4.4M267.28 27.30h6m-3 -3v6m-2.2 -5.2l4.4 4.4m0 -4.4l-4.4 4.4M268.78 25.65h6m-3 -3v6m-2.2 -5.2l4.4 4.4m0 -4.4l-4.4 4.4M270.28 26.69h6m-3 -3v6m-2.2 -5.2l4.4 4.4m0 -4.4l-4.4 4.4M271.77 29.46h6m-3 -3v6m-2.2 -5.2l4.4 4.4m0 -4.4l-4.4 4.4M273.27 29.21h6m-3 -3v6m-2.2 -5.2l4.4 4.4m0 -4.4l-4.4 4.4M274.76 25.65h6m-3 -3v6m-2.2 -5.2l4.4 4.4m0 -4.4l-4.4 4.4M276.26 25.65h6m-3 -3v6m-2.2 -5.2l4.4 4.4m0 -4.4l-4.4 4.4M277.75 26.48h6m-3 -3v6m-2.2 -5.2l4.4 4.4m0 -4.4l-4.4 4.4M279.25 25.64h6m-3 -3v6m-2.2 -5.2l4.4 4.4m0 -4.4l-4.4 4.4M280.74 29.06h6m-3 -3v6m-2.2 -5.2l4.4 4.4m0 -4.4l-4.4 4.4M282.24 27.28h6m-3 -3v6m-2.2 -5.2l4.4 4.4m0 -4.4l-4.4 4.4M283.74 26.78h6m-3 -3v6m-2.2 -5.2l4.4 4.4m0 -4.4l-4.4 4.4M285.23 32.52h6m-3 -3v6m-2.2 -5.2l4.4 4.4m0 -4.4l-4.4 4.4M286.73 26.64h6m-3 -3v6m-2.2 -5.2l4.4 4.4m0 -4.4l-4.4 4.4M288.22 27.36h6m-3 -3v6m-2.2 -5.2l4.4 4.4m0 -4.4l-4.4 4.4M289.72 27.94h6m-3 -3v6m-2.2 -5.2l4.4 4.4m0 -4.4l-4.4 4.4M291.21 31.08h6m-3 -3v6m-2.2 -5.2l4.4 4.4m0 -4.4l-4.4 4.4M292.71 28.87h6m-3 -3v6m-2.2 -5.2l4.4 4.4m0 -4.4l-4.4 4.4M294.20 26.48h6m-3 -3v6m-2.2 -5.2l4.4 4.4m0 -4.4l-4.4 4.4M295.70 27.99h6m-3 -3v6m-2.2 -5.2l4.4 4.4m0 -4.4l-4.4 4.4M297.19 28.70h6m-3 -3v6m-2.2 -5.2l4.4 4.4m0 -4.4l-4.4 4.4M298.69 33.05h6m-3 -3v6m-2.2 -5.2l4.4 4.4m0 -4.4l-4.4 4.4M300.19 26.00h6m-3 -3v6m-2.2 -5.2l4.4 4.4m0 -4.4l-4.4 4.4M301.68 26.99h6m-3 -3v6m-2.2 -5.2l4.4 4.4m0 -4.4l-4.4 4.4M303.18 27.15h6m-3 -3v6m-2.2 -5.2l4.4 4.4m0 -4.4l-4.4 4.4M304.67 27.26h6m-3 -3v6m-2.2 -5.2l4.4 4.4m0 -4.4l-4.4 4.4M306.17 28.82h6m-3 -3v6m-2.2 -5.2l4.4 4.4m0 -4.4l-4.4 4.4M307.66 32.52h6m-3 -3v6m-2.2 -5.2l4.4 4.4m0 -4.4l-4.4 4.4M309.16 28.82h6m-3 -3v6m-2.2 -5.2l4.4 4.4m0 -4.4l-4.4 4.4M310.65 27.21h6m-3 -3v6m-2.2 -5.2l4.4 4.4m0 -4.4l-4.4 4.4M312.15 27.59h6m-3 -3v6m-2.2 -5.2l4.4 4.4m0 -4.4l-4.4 4.4M313.65 27.02h6m-3 -3v6m-2.2 -5.2l4.4 4.4m0 -4.4l-4.4 4.4M315.14 30.15h6m-3 -3v6m-2.2 -5.2l4.4 4.4m0 -4.4l-4.4 4.4M316.64 26.59h6m-3 -3v6m-2.2 -5.2l4.4 4.4m0 -4.4l-4.4 4.4M318.13 29.32h6m-3 -3v6m-2.2 -5.2l4.4 4.4m0 -4.4l-4.4 4.4M319.63 29.53h6m-3 -3v6m-2.2 -5.2l4.4 4.4m0 -4.4l-4.4 4.4M321.12 28.54h6m-3 -3v6m-2.2 -5.2l4.4 4.4m0 -4.4l-4.4 4.4M322.62 30.94h6m-3 -3v6m-2.2 -5.2l4.4 4.4m0 -4.4l-4.4 4.4M324.11 26.74h6m-3 -3v6m-2.2 -5.2l4.4 4.4m0 -4.4l-4.4 4.4M325.61 29.13h6m-3 -3v6m-2.2 -5.2l4.4 4.4m0 -4.4l-4.4 4.4M327.10 30.25h6m-3 -3v6m-2.2 -5.2l4.4 4.4m0 -4.4l-4.4 4.4M328.60 29.72h6m-3 -3v6m-2.2 -5.2l4.4 4.4m0 -4.4l-4.4 4.4" fill="none" stroke="#ff0000" stroke-width="0.85"/>
<rect x="32.5" y="13.6" width="299.10" height="236.50" fill="none" stroke="#4a4a4a" stroke-width="1.15"/>
<path d="M32.50 250.10v-3M32.50 13.60v3M62.41 250.10v-3M62.41 13.60v3M92.32 250.10v-3M92.32 13.60v3M122.23 250.10v-3M122.23 13.60v3M152.14 250.10v-3M152.14 13.60v3M182.05 250.10v-3M182.05 13.60v3M211.96 250.10v-3M211.96 13.60v3M241.87 250.10v-3M241.87 13.60v3M271.78 250.10v-3M271.78 13.60v3M301.69 250.10v-3M301.69 13.60v3M331.60 250.10v-3M331.60 13.60v3M32.50 250.10h3M331.60 250.10h-3M32.50 223.82h3M331.60 223.82h-3M32.50 197.54h3M331.60 197.54h-3M32.50 171.27h3M331.60 171.27h-3M32.50 144.99h3M331.60 144.99h-3M32.50 118.71h3M331.60 118.71h-3M32.50 92.43h3M331.60 92.43h-3M32.50 66.16h3M331.60 66.16h-3M32.50 39.88h3M331.60 39.88h-3M32.50 13.60h3M331.60 13.60h-3" stroke="#4a4a4a" stroke-width="1.1" fill="none"/>
<text transform="translate(32.50 263.3) scale(1 1.04)" class="tl" text-anchor="middle">0</text>
<text transform="translate(62.41 263.3) scale(1 1.04)" class="tl" text-anchor="middle">20</text>
<text transform="translate(92.32 263.3) scale(1 1.04)" class="tl" text-anchor="middle">40</text>
<text transform="translate(122.23 263.3) scale(1 1.04)" class="tl" text-anchor="middle">60</text>
<text transform="translate(152.14 263.3) scale(1 1.04)" class="tl" text-anchor="middle">80</text>
<text transform="translate(182.05 263.3) scale(1 1.04)" class="tl" text-anchor="middle">100</text>
<text transform="translate(211.96 263.3) scale(1 1.04)" class="tl" text-anchor="middle">120</text>
<text transform="translate(241.87 263.3) scale(1 1.04)" class="tl" text-anchor="middle">140</text>
<text transform="translate(271.78 263.3) scale(1 1.04)" class="tl" text-anchor="middle">160</text>
<text transform="translate(301.69 263.3) scale(1 1.04)" class="tl" text-anchor="middle">180</text>
<text transform="translate(331.60 263.3) scale(1 1.04)" class="tl" text-anchor="middle">200</text>
<text transform="translate(28.20 254.10) scale(1 1.04)" class="tl" text-anchor="end">1</text>
<text transform="translate(28.20 227.82) scale(1 1.04)" class="tl" text-anchor="end">1.5</text>
<text transform="translate(28.20 201.54) scale(1 1.04)" class="tl" text-anchor="end">2</text>
<text transform="translate(28.20 175.27) scale(1 1.04)" class="tl" text-anchor="end">2.5</text>
<text transform="translate(28.20 148.99) scale(1 1.04)" class="tl" text-anchor="end">3</text>
<text transform="translate(28.20 122.71) scale(1 1.04)" class="tl" text-anchor="end">3.5</text>
<text transform="translate(28.20 96.43) scale(1 1.04)" class="tl" text-anchor="end">4</text>
<text transform="translate(28.20 70.16) scale(1 1.04)" class="tl" text-anchor="end">4.5</text>
<text transform="translate(28.20 43.88) scale(1 1.04)" class="tl" text-anchor="end">5</text>
<text transform="translate(28.20 17.60) scale(1 1.04)" class="tl" text-anchor="end">5.5</text>
<text x="33.40" y="12.4" class="tl" style="font-size:9.4px;fill:#333">×</text>
<text transform="translate(40.40 11.6) scale(1.02 1.08)" class="tl">10</text>
<text transform="translate(50.00 7.3) scale(1 1.02)" class="tl" style="font-size:7.4px">-4</text>
<text x="182.05" y="277.6" class="lab" text-anchor="middle">Generation</text>
<text transform="translate(10.0 132.25) rotate(-90)" class="lab" text-anchor="middle">Fitness Value of left equation for radon exhalation</text>
<text x="179.7" y="301.4" class="cap" text-anchor="middle">(a)</text>
<rect x="264.4" y="43.4" width="56.40" height="24.80" fill="#fff" stroke="#4a4a4a" stroke-width="1"/>
<path d="M266.80 50.00H294.70" stroke="#00ff00" stroke-width="0.8"/>
<path d="M277.40 48.10h6.40l-3.20 5.80z" fill="none" stroke="#00ff00" stroke-width="0.75"/>
<path d="M266.80 61.00H294.70" stroke="#ff0000" stroke-width="0.8"/>
<path d="M278.00 61.00h5.2m-2.6 -2.6v5.2m-1.9 -4.5l3.8 3.8m0 -3.8l-3.8 3.8" fill="none" stroke="#ff0000" stroke-width="0.9"/>
<text x="296.80" y="53.80" class="lg">best</text>
<text x="296.80" y="65.00" class="lg">mean</text>
<polyline points="379.00,98.15 380.49,71.84 381.99,54.40 383.49,47.60 384.98,44.05 386.48,40.21 387.98,39.62 389.47,34.89 390.97,34.29 392.46,33.70 393.96,32.82 395.46,31.34 396.95,31.04 398.45,31.04 399.95,30.75 401.44,30.75 402.94,30.75 404.44,30.75 405.93,30.75 407.43,30.75 408.93,30.75 410.42,30.75 411.92,30.75 413.42,30.75 414.91,30.75 416.41,30.75 417.91,30.75 419.40,30.75 420.90,30.75 422.39,30.75 423.89,30.75 425.39,30.75 426.88,30.75 428.38,30.75 429.88,30.75 431.37,30.75 432.87,30.75 434.37,30.75 435.86,30.75 437.36,30.75 438.86,30.75 440.35,30.75 441.85,30.75 443.35,30.75 444.84,30.75 446.34,30.75 447.84,30.75 449.33,30.75 450.83,30.75 452.32,30.75 453.82,30.75 455.32,30.75 456.81,30.75 458.31,30.75 459.81,30.75 461.30,30.75 462.80,30.75 464.30,30.75 465.79,30.75 467.29,30.75 468.79,30.75 470.28,30.75 471.78,30.75 473.28,30.75 474.77,30.75 476.27,30.75 477.77,30.75 479.26,30.75 480.76,30.75 482.25,30.75 483.75,30.75 485.25,30.75 486.74,30.75 488.24,30.75 489.74,30.75 491.23,30.75 492.73,30.75 494.23,30.75 495.72,30.75 497.22,30.75 498.72,30.75 500.21,30.75 501.71,30.75 503.21,30.75 504.70,30.75 506.20,30.75 507.70,30.75 509.19,30.75 510.69,30.75 512.18,30.75 513.68,30.75 515.18,30.75 516.67,30.75 518.17,30.75 519.67,30.75 521.16,30.75 522.66,30.75 524.16,30.75 525.65,30.75 527.15,30.75 528.65,30.75 530.14,30.75 531.64,30.75 533.14,30.75 534.63,30.75 536.13,30.75 537.63,30.75 539.12,30.75 540.62,30.75 542.12,30.75 543.61,30.75 545.11,30.75 546.60,30.75 548.10,30.75 549.60,30.75 551.09,30.75 552.59,30.75 554.09,30.75 555.58,30.75 557.08,30.75 558.58,30.75 560.07,30.75 561.57,30.75 563.07,30.75 564.56,30.75 566.06,30.75 567.56,30.75 569.05,30.75 570.55,30.75 572.04,30.75 573.54,30.75 575.04,30.75 576.53,30.75 578.03,30.75 579.53,30.75 581.02,30.75 582.52,30.75 584.02,30.75 585.51,30.75 587.01,30.75 588.51,30.75 590.00,30.75 591.50,30.75 593.00,30.75 594.49,30.75 595.99,30.75 597.49,30.75 598.98,30.75 600.48,30.75 601.97,30.75 603.47,30.75 604.97,30.75 606.46,30.75 607.96,30.75 609.46,30.75 610.95,30.75 612.45,30.75 613.95,30.75 615.44,30.75 616.94,30.75 618.44,30.75 619.93,30.75 621.43,30.75 622.93,30.75 624.42,30.75 625.92,30.75 627.42,30.75 628.91,30.75 630.41,30.75 631.90,30.75 633.40,30.75 634.90,30.75 636.39,30.75 637.89,30.75 639.39,30.75 640.88,30.75 642.38,30.75 643.88,30.75 645.37,30.75 646.87,30.75 648.37,30.75 649.86,30.75 651.36,30.75 652.86,30.75 654.35,30.75 655.85,30.75 657.35,30.75 658.84,30.75 660.34,30.75 661.84,30.75 663.33,30.75 664.83,30.75 666.32,30.75 667.82,30.75 669.32,30.75 670.81,30.75 672.31,30.75 673.81,30.75 675.30,30.75 676.80,30.75" fill="none" stroke="#00ff00" stroke-width="0.7"/>
<path d="M375.90 95.35h6.20l-3.10 5.80zM377.39 69.04h6.20l-3.10 5.80zM378.89 51.60h6.20l-3.10 5.80zM380.39 44.80h6.20l-3.10 5.80zM381.88 41.25h6.20l-3.10 5.80zM383.38 37.41h6.20l-3.10 5.80zM384.88 36.82h6.20l-3.10 5.80zM386.37 32.09h6.20l-3.10 5.80zM387.87 31.49h6.20l-3.10 5.80zM389.36 30.90h6.20l-3.10 5.80zM390.86 30.02h6.20l-3.10 5.80zM392.36 28.54h6.20l-3.10 5.80zM393.85 28.24h6.20l-3.10 5.80zM395.35 28.24h6.20l-3.10 5.80zM396.85 27.95h6.20l-3.10 5.80zM398.34 27.95h6.20l-3.10 5.80zM399.84 27.95h6.20l-3.10 5.80zM401.34 27.95h6.20l-3.10 5.80zM402.83 27.95h6.20l-3.10 5.80zM404.33 27.95h6.20l-3.10 5.80zM405.83 27.95h6.20l-3.10 5.80zM407.32 27.95h6.20l-3.10 5.80zM408.82 27.95h6.20l-3.10 5.80zM410.32 27.95h6.20l-3.10 5.80zM411.81 27.95h6.20l-3.10 5.80zM413.31 27.95h6.20l-3.10 5.80zM414.81 27.95h6.20l-3.10 5.80zM416.30 27.95h6.20l-3.10 5.80zM417.80 27.95h6.20l-3.10 5.80zM419.29 27.95h6.20l-3.10 5.80zM420.79 27.95h6.20l-3.10 5.80zM422.29 27.95h6.20l-3.10 5.80zM423.78 27.95h6.20l-3.10 5.80zM425.28 27.95h6.20l-3.10 5.80zM426.78 27.95h6.20l-3.10 5.80zM428.27 27.95h6.20l-3.10 5.80zM429.77 27.95h6.20l-3.10 5.80zM431.27 27.95h6.20l-3.10 5.80zM432.76 27.95h6.20l-3.10 5.80zM434.26 27.95h6.20l-3.10 5.80zM435.76 27.95h6.20l-3.10 5.80zM437.25 27.95h6.20l-3.10 5.80zM438.75 27.95h6.20l-3.10 5.80zM440.25 27.95h6.20l-3.10 5.80zM441.74 27.95h6.20l-3.10 5.80zM443.24 27.95h6.20l-3.10 5.80zM444.74 27.95h6.20l-3.10 5.80zM446.23 27.95h6.20l-3.10 5.80zM447.73 27.95h6.20l-3.10 5.80zM449.22 27.95h6.20l-3.10 5.80zM450.72 27.95h6.20l-3.10 5.80zM452.22 27.95h6.20l-3.10 5.80zM453.71 27.95h6.20l-3.10 5.80zM455.21 27.95h6.20l-3.10 5.80zM456.71 27.95h6.20l-3.10 5.80zM458.20 27.95h6.20l-3.10 5.80zM459.70 27.95h6.20l-3.10 5.80zM461.20 27.95h6.20l-3.10 5.80zM462.69 27.95h6.20l-3.10 5.80zM464.19 27.95h6.20l-3.10 5.80zM465.69 27.95h6.20l-3.10 5.80zM467.18 27.95h6.20l-3.10 5.80zM468.68 27.95h6.20l-3.10 5.80zM470.18 27.95h6.20l-3.10 5.80zM471.67 27.95h6.20l-3.10 5.80zM473.17 27.95h6.20l-3.10 5.80zM474.67 27.95h6.20l-3.10 5.80zM476.16 27.95h6.20l-3.10 5.80zM477.66 27.95h6.20l-3.10 5.80zM479.15 27.95h6.20l-3.10 5.80zM480.65 27.95h6.20l-3.10 5.80zM482.15 27.95h6.20l-3.10 5.80zM483.64 27.95h6.20l-3.10 5.80zM485.14 27.95h6.20l-3.10 5.80zM486.64 27.95h6.20l-3.10 5.80zM488.13 27.95h6.20l-3.10 5.80zM489.63 27.95h6.20l-3.10 5.80zM491.13 27.95h6.20l-3.10 5.80zM492.62 27.95h6.20l-3.10 5.80zM494.12 27.95h6.20l-3.10 5.80zM495.62 27.95h6.20l-3.10 5.80zM497.11 27.95h6.20l-3.10 5.80zM498.61 27.95h6.20l-3.10 5.80zM500.11 27.95h6.20l-3.10 5.80zM501.60 27.95h6.20l-3.10 5.80zM503.10 27.95h6.20l-3.10 5.80zM504.60 27.95h6.20l-3.10 5.80zM506.09 27.95h6.20l-3.10 5.80zM507.59 27.95h6.20l-3.10 5.80zM509.08 27.95h6.20l-3.10 5.80zM510.58 27.95h6.20l-3.10 5.80zM512.08 27.95h6.20l-3.10 5.80zM513.57 27.95h6.20l-3.10 5.80zM515.07 27.95h6.20l-3.10 5.80zM516.57 27.95h6.20l-3.10 5.80zM518.06 27.95h6.20l-3.10 5.80zM519.56 27.95h6.20l-3.10 5.80zM521.06 27.95h6.20l-3.10 5.80zM522.55 27.95h6.20l-3.10 5.80zM524.05 27.95h6.20l-3.10 5.80zM525.55 27.95h6.20l-3.10 5.80zM527.04 27.95h6.20l-3.10 5.80zM528.54 27.95h6.20l-3.10 5.80zM530.04 27.95h6.20l-3.10 5.80zM531.53 27.95h6.20l-3.10 5.80zM533.03 27.95h6.20l-3.10 5.80zM534.53 27.95h6.20l-3.10 5.80zM536.02 27.95h6.20l-3.10 5.80zM537.52 27.95h6.20l-3.10 5.80zM539.01 27.95h6.20l-3.10 5.80zM540.51 27.95h6.20l-3.10 5.80zM542.01 27.95h6.20l-3.10 5.80zM543.50 27.95h6.20l-3.10 5.80zM545.00 27.95h6.20l-3.10 5.80zM546.50 27.95h6.20l-3.10 5.80zM547.99 27.95h6.20l-3.10 5.80zM549.49 27.95h6.20l-3.10 5.80zM550.99 27.95h6.20l-3.10 5.80zM552.48 27.95h6.20l-3.10 5.80zM553.98 27.95h6.20l-3.10 5.80zM555.48 27.95h6.20l-3.10 5.80zM556.97 27.95h6.20l-3.10 5.80zM558.47 27.95h6.20l-3.10 5.80zM559.97 27.95h6.20l-3.10 5.80zM561.46 27.95h6.20l-3.10 5.80zM562.96 27.95h6.20l-3.10 5.80zM564.46 27.95h6.20l-3.10 5.80zM565.95 27.95h6.20l-3.10 5.80zM567.45 27.95h6.20l-3.10 5.80zM568.94 27.95h6.20l-3.10 5.80zM570.44 27.95h6.20l-3.10 5.80zM571.94 27.95h6.20l-3.10 5.80zM573.43 27.95h6.20l-3.10 5.80zM574.93 27.95h6.20l-3.10 5.80zM576.43 27.95h6.20l-3.10 5.80zM577.92 27.95h6.20l-3.10 5.80zM579.42 27.95h6.20l-3.10 5.80zM580.92 27.95h6.20l-3.10 5.80zM582.41 27.95h6.20l-3.10 5.80zM583.91 27.95h6.20l-3.10 5.80zM585.41 27.95h6.20l-3.10 5.80zM586.90 27.95h6.20l-3.10 5.80zM588.40 27.95h6.20l-3.10 5.80zM589.90 27.95h6.20l-3.10 5.80zM591.39 27.95h6.20l-3.10 5.80zM592.89 27.95h6.20l-3.10 5.80zM594.39 27.95h6.20l-3.10 5.80zM595.88 27.95h6.20l-3.10 5.80zM597.38 27.95h6.20l-3.10 5.80zM598.87 27.95h6.20l-3.10 5.80zM600.37 27.95h6.20l-3.10 5.80zM601.87 27.95h6.20l-3.10 5.80zM603.36 27.95h6.20l-3.10 5.80zM604.86 27.95h6.20l-3.10 5.80zM606.36 27.95h6.20l-3.10 5.80zM607.85 27.95h6.20l-3.10 5.80zM609.35 27.95h6.20l-3.10 5.80zM610.85 27.95h6.20l-3.10 5.80zM612.34 27.95h6.20l-3.10 5.80zM613.84 27.95h6.20l-3.10 5.80zM615.34 27.95h6.20l-3.10 5.80zM616.83 27.95h6.20l-3.10 5.80zM618.33 27.95h6.20l-3.10 5.80zM619.83 27.95h6.20l-3.10 5.80zM621.32 27.95h6.20l-3.10 5.80zM622.82 27.95h6.20l-3.10 5.80zM624.32 27.95h6.20l-3.10 5.80zM625.81 27.95h6.20l-3.10 5.80zM627.31 27.95h6.20l-3.10 5.80zM628.80 27.95h6.20l-3.10 5.80zM630.30 27.95h6.20l-3.10 5.80zM631.80 27.95h6.20l-3.10 5.80zM633.29 27.95h6.20l-3.10 5.80zM634.79 27.95h6.20l-3.10 5.80zM636.29 27.95h6.20l-3.10 5.80zM637.78 27.95h6.20l-3.10 5.80zM639.28 27.95h6.20l-3.10 5.80zM640.78 27.95h6.20l-3.10 5.80zM642.27 27.95h6.20l-3.10 5.80zM643.77 27.95h6.20l-3.10 5.80zM645.27 27.95h6.20l-3.10 5.80zM646.76 27.95h6.20l-3.10 5.80zM648.26 27.95h6.20l-3.10 5.80zM649.76 27.95h6.20l-3.10 5.80zM651.25 27.95h6.20l-3.10 5.80zM652.75 27.95h6.20l-3.10 5.80zM654.25 27.95h6.20l-3.10 5.80zM655.74 27.95h6.20l-3.10 5.80zM657.24 27.95h6.20l-3.10 5.80zM658.74 27.95h6.20l-3.10 5.80zM660.23 27.95h6.20l-3.10 5.80zM661.73 27.95h6.20l-3.10 5.80zM663.22 27.95h6.20l-3.10 5.80zM664.72 27.95h6.20l-3.10 5.80zM666.22 27.95h6.20l-3.10 5.80zM667.71 27.95h6.20l-3.10 5.80zM669.21 27.95h6.20l-3.10 5.80zM670.71 27.95h6.20l-3.10 5.80zM672.20 27.95h6.20l-3.10 5.80zM673.70 27.95h6.20l-3.10 5.80z" fill="none" stroke="#00ff00" stroke-width="0.9"/>
<polyline points="379.00,222.02 380.49,162.89 381.99,103.77 383.49,86.92 384.98,67.40 386.48,60.90 387.98,56.47 389.47,53.51 390.97,49.07 392.46,46.12 393.96,43.16 395.46,47.60 396.95,50.55 398.45,52.03 399.95,40.21 401.44,38.73 402.94,37.55 404.44,43.54 405.93,41.58 407.43,42.28 408.93,38.90 410.42,39.32 411.92,41.86 413.42,42.03 414.91,39.16 416.41,38.65 417.91,39.99 419.40,42.81 420.90,42.05 422.39,38.45 423.89,36.07 425.39,43.30 426.88,41.03 428.38,41.68 429.88,41.62 431.37,41.25 432.87,41.29 434.37,39.21 435.86,40.08 437.36,40.86 438.86,34.59 440.35,38.32 441.85,42.03 443.35,40.10 444.84,41.68 446.34,39.47 447.84,40.75 449.33,38.51 450.83,38.18 452.32,38.61 453.82,39.80 455.32,38.96 456.81,40.07 458.31,40.32 459.81,37.89 461.30,39.36 462.80,35.75 464.30,34.00 465.79,40.94 467.29,37.85 468.79,39.49 470.28,37.78 471.78,37.94 473.28,41.68 474.77,38.46 476.27,37.82 477.77,36.10 479.26,39.24 480.76,36.65 482.25,39.35 483.75,38.48 485.25,38.69 486.74,35.33 488.24,35.42 489.74,35.28 491.23,35.37 492.73,35.38 494.23,35.65 495.72,38.23 497.22,37.21 498.72,35.11 500.21,37.61 501.71,36.94 503.21,37.04 504.70,33.11 506.20,37.76 507.70,37.47 509.19,36.67 510.69,37.07 512.18,38.56 513.68,40.50 515.18,39.72 516.67,40.09 518.17,39.66 519.67,35.50 521.16,37.74 522.66,39.33 524.16,39.42 525.65,36.67 527.15,33.11 528.65,39.65 530.14,36.28 531.64,39.28 533.14,37.84 534.63,37.06 536.13,39.91 537.63,36.68 539.12,34.44 540.62,37.82 542.12,40.01 543.61,40.99 545.11,37.70 546.60,37.40 548.10,36.30 549.60,37.68 551.09,37.95 552.59,38.41 554.09,37.83 555.58,36.43 557.08,37.27 558.58,35.86 560.07,42.57 561.57,35.32 563.07,39.24 564.56,33.98 566.06,35.41 567.56,38.05 569.05,34.63 570.55,36.19 572.04,32.52 573.54,38.06 575.04,38.53 576.53,36.10 578.03,34.00 579.53,36.47 581.02,34.85 582.52,33.76 584.02,38.12 585.51,35.95 587.01,36.93 588.51,38.64 590.00,39.62 591.50,36.23 593.00,35.26 594.49,37.00 595.99,35.84 597.49,34.40 598.98,34.96 600.48,33.98 601.97,34.66 603.47,34.36 604.97,33.64 606.46,34.15 607.96,35.32 609.46,34.66 610.95,37.70 612.45,32.52 613.95,34.19 615.44,34.00 616.94,33.59 618.44,35.82 619.93,38.32 621.43,33.58 622.93,33.57 624.42,37.34 625.92,33.56 627.42,35.85 628.91,39.53 630.41,37.21 631.90,32.52 633.40,33.53 634.90,37.00 636.39,39.62 637.89,36.44 639.39,36.77 640.88,37.56 642.38,35.23 643.88,33.49 645.37,34.42 646.87,37.63 648.37,42.57 649.86,35.87 651.36,37.15 652.86,37.44 654.35,38.57 655.85,33.44 657.35,33.59 658.84,37.04 660.34,32.22 661.84,33.42 663.33,39.97 664.83,37.28 666.32,36.27 667.82,34.42 669.32,35.66 670.81,36.00 672.31,35.23 673.81,33.37 675.30,33.37 676.80,35.96" fill="none" stroke="#ff0000" stroke-width="0.7"/>
<path d="M376.00 222.02h6m-3 -3v6m-2.2 -5.2l4.4 4.4m0 -4.4l-4.4 4.4M377.49 162.89h6m-3 -3v6m-2.2 -5.2l4.4 4.4m0 -4.4l-4.4 4.4M378.99 103.77h6m-3 -3v6m-2.2 -5.2l4.4 4.4m0 -4.4l-4.4 4.4M380.49 86.92h6m-3 -3v6m-2.2 -5.2l4.4 4.4m0 -4.4l-4.4 4.4M381.98 67.40h6m-3 -3v6m-2.2 -5.2l4.4 4.4m0 -4.4l-4.4 4.4M383.48 60.90h6m-3 -3v6m-2.2 -5.2l4.4 4.4m0 -4.4l-4.4 4.4M384.98 56.47h6m-3 -3v6m-2.2 -5.2l4.4 4.4m0 -4.4l-4.4 4.4M386.47 53.51h6m-3 -3v6m-2.2 -5.2l4.4 4.4m0 -4.4l-4.4 4.4M387.97 49.07h6m-3 -3v6m-2.2 -5.2l4.4 4.4m0 -4.4l-4.4 4.4M389.46 46.12h6m-3 -3v6m-2.2 -5.2l4.4 4.4m0 -4.4l-4.4 4.4M390.96 43.16h6m-3 -3v6m-2.2 -5.2l4.4 4.4m0 -4.4l-4.4 4.4M392.46 47.60h6m-3 -3v6m-2.2 -5.2l4.4 4.4m0 -4.4l-4.4 4.4M393.95 50.55h6m-3 -3v6m-2.2 -5.2l4.4 4.4m0 -4.4l-4.4 4.4M395.45 52.03h6m-3 -3v6m-2.2 -5.2l4.4 4.4m0 -4.4l-4.4 4.4M396.95 40.21h6m-3 -3v6m-2.2 -5.2l4.4 4.4m0 -4.4l-4.4 4.4M398.44 38.73h6m-3 -3v6m-2.2 -5.2l4.4 4.4m0 -4.4l-4.4 4.4M399.94 37.55h6m-3 -3v6m-2.2 -5.2l4.4 4.4m0 -4.4l-4.4 4.4M401.44 43.54h6m-3 -3v6m-2.2 -5.2l4.4 4.4m0 -4.4l-4.4 4.4M402.93 41.58h6m-3 -3v6m-2.2 -5.2l4.4 4.4m0 -4.4l-4.4 4.4M404.43 42.28h6m-3 -3v6m-2.2 -5.2l4.4 4.4m0 -4.4l-4.4 4.4M405.93 38.90h6m-3 -3v6m-2.2 -5.2l4.4 4.4m0 -4.4l-4.4 4.4M407.42 39.32h6m-3 -3v6m-2.2 -5.2l4.4 4.4m0 -4.4l-4.4 4.4M408.92 41.86h6m-3 -3v6m-2.2 -5.2l4.4 4.4m0 -4.4l-4.4 4.4M410.42 42.03h6m-3 -3v6m-2.2 -5.2l4.4 4.4m0 -4.4l-4.4 4.4M411.91 39.16h6m-3 -3v6m-2.2 -5.2l4.4 4.4m0 -4.4l-4.4 4.4M413.41 38.65h6m-3 -3v6m-2.2 -5.2l4.4 4.4m0 -4.4l-4.4 4.4M414.91 39.99h6m-3 -3v6m-2.2 -5.2l4.4 4.4m0 -4.4l-4.4 4.4M416.40 42.81h6m-3 -3v6m-2.2 -5.2l4.4 4.4m0 -4.4l-4.4 4.4M417.90 42.05h6m-3 -3v6m-2.2 -5.2l4.4 4.4m0 -4.4l-4.4 4.4M419.39 38.45h6m-3 -3v6m-2.2 -5.2l4.4 4.4m0 -4.4l-4.4 4.4M420.89 36.07h6m-3 -3v6m-2.2 -5.2l4.4 4.4m0 -4.4l-4.4 4.4M422.39 43.30h6m-3 -3v6m-2.2 -5.2l4.4 4.4m0 -4.4l-4.4 4.4M423.88 41.03h6m-3 -3v6m-2.2 -5.2l4.4 4.4m0 -4.4l-4.4 4.4M425.38 41.68h6m-3 -3v6m-2.2 -5.2l4.4 4.4m0 -4.4l-4.4 4.4M426.88 41.62h6m-3 -3v6m-2.2 -5.2l4.4 4.4m0 -4.4l-4.4 4.4M428.37 41.25h6m-3 -3v6m-2.2 -5.2l4.4 4.4m0 -4.4l-4.4 4.4M429.87 41.29h6m-3 -3v6m-2.2 -5.2l4.4 4.4m0 -4.4l-4.4 4.4M431.37 39.21h6m-3 -3v6m-2.2 -5.2l4.4 4.4m0 -4.4l-4.4 4.4M432.86 40.08h6m-3 -3v6m-2.2 -5.2l4.4 4.4m0 -4.4l-4.4 4.4M434.36 40.86h6m-3 -3v6m-2.2 -5.2l4.4 4.4m0 -4.4l-4.4 4.4M435.86 34.59h6m-3 -3v6m-2.2 -5.2l4.4 4.4m0 -4.4l-4.4 4.4M437.35 38.32h6m-3 -3v6m-2.2 -5.2l4.4 4.4m0 -4.4l-4.4 4.4M438.85 42.03h6m-3 -3v6m-2.2 -5.2l4.4 4.4m0 -4.4l-4.4 4.4M440.35 40.10h6m-3 -3v6m-2.2 -5.2l4.4 4.4m0 -4.4l-4.4 4.4M441.84 41.68h6m-3 -3v6m-2.2 -5.2l4.4 4.4m0 -4.4l-4.4 4.4M443.34 39.47h6m-3 -3v6m-2.2 -5.2l4.4 4.4m0 -4.4l-4.4 4.4M444.84 40.75h6m-3 -3v6m-2.2 -5.2l4.4 4.4m0 -4.4l-4.4 4.4M446.33 38.51h6m-3 -3v6m-2.2 -5.2l4.4 4.4m0 -4.4l-4.4 4.4M447.83 38.18h6m-3 -3v6m-2.2 -5.2l4.4 4.4m0 -4.4l-4.4 4.4M449.32 38.61h6m-3 -3v6m-2.2 -5.2l4.4 4.4m0 -4.4l-4.4 4.4M450.82 39.80h6m-3 -3v6m-2.2 -5.2l4.4 4.4m0 -4.4l-4.4 4.4M452.32 38.96h6m-3 -3v6m-2.2 -5.2l4.4 4.4m0 -4.4l-4.4 4.4M453.81 40.07h6m-3 -3v6m-2.2 -5.2l4.4 4.4m0 -4.4l-4.4 4.4M455.31 40.32h6m-3 -3v6m-2.2 -5.2l4.4 4.4m0 -4.4l-4.4 4.4M456.81 37.89h6m-3 -3v6m-2.2 -5.2l4.4 4.4m0 -4.4l-4.4 4.4M458.30 39.36h6m-3 -3v6m-2.2 -5.2l4.4 4.4m0 -4.4l-4.4 4.4M459.80 35.75h6m-3 -3v6m-2.2 -5.2l4.4 4.4m0 -4.4l-4.4 4.4M461.30 34.00h6m-3 -3v6m-2.2 -5.2l4.4 4.4m0 -4.4l-4.4 4.4M462.79 40.94h6m-3 -3v6m-2.2 -5.2l4.4 4.4m0 -4.4l-4.4 4.4M464.29 37.85h6m-3 -3v6m-2.2 -5.2l4.4 4.4m0 -4.4l-4.4 4.4M465.79 39.49h6m-3 -3v6m-2.2 -5.2l4.4 4.4m0 -4.4l-4.4 4.4M467.28 37.78h6m-3 -3v6m-2.2 -5.2l4.4 4.4m0 -4.4l-4.4 4.4M468.78 37.94h6m-3 -3v6m-2.2 -5.2l4.4 4.4m0 -4.4l-4.4 4.4M470.28 41.68h6m-3 -3v6m-2.2 -5.2l4.4 4.4m0 -4.4l-4.4 4.4M471.77 38.46h6m-3 -3v6m-2.2 -5.2l4.4 4.4m0 -4.4l-4.4 4.4M473.27 37.82h6m-3 -3v6m-2.2 -5.2l4.4 4.4m0 -4.4l-4.4 4.4M474.77 36.10h6m-3 -3v6m-2.2 -5.2l4.4 4.4m0 -4.4l-4.4 4.4M476.26 39.24h6m-3 -3v6m-2.2 -5.2l4.4 4.4m0 -4.4l-4.4 4.4M477.76 36.65h6m-3 -3v6m-2.2 -5.2l4.4 4.4m0 -4.4l-4.4 4.4M479.25 39.35h6m-3 -3v6m-2.2 -5.2l4.4 4.4m0 -4.4l-4.4 4.4M480.75 38.48h6m-3 -3v6m-2.2 -5.2l4.4 4.4m0 -4.4l-4.4 4.4M482.25 38.69h6m-3 -3v6m-2.2 -5.2l4.4 4.4m0 -4.4l-4.4 4.4M483.74 35.33h6m-3 -3v6m-2.2 -5.2l4.4 4.4m0 -4.4l-4.4 4.4M485.24 35.42h6m-3 -3v6m-2.2 -5.2l4.4 4.4m0 -4.4l-4.4 4.4M486.74 35.28h6m-3 -3v6m-2.2 -5.2l4.4 4.4m0 -4.4l-4.4 4.4M488.23 35.37h6m-3 -3v6m-2.2 -5.2l4.4 4.4m0 -4.4l-4.4 4.4M489.73 35.38h6m-3 -3v6m-2.2 -5.2l4.4 4.4m0 -4.4l-4.4 4.4M491.23 35.65h6m-3 -3v6m-2.2 -5.2l4.4 4.4m0 -4.4l-4.4 4.4M492.72 38.23h6m-3 -3v6m-2.2 -5.2l4.4 4.4m0 -4.4l-4.4 4.4M494.22 37.21h6m-3 -3v6m-2.2 -5.2l4.4 4.4m0 -4.4l-4.4 4.4M495.72 35.11h6m-3 -3v6m-2.2 -5.2l4.4 4.4m0 -4.4l-4.4 4.4M497.21 37.61h6m-3 -3v6m-2.2 -5.2l4.4 4.4m0 -4.4l-4.4 4.4M498.71 36.94h6m-3 -3v6m-2.2 -5.2l4.4 4.4m0 -4.4l-4.4 4.4M500.21 37.04h6m-3 -3v6m-2.2 -5.2l4.4 4.4m0 -4.4l-4.4 4.4M501.70 33.11h6m-3 -3v6m-2.2 -5.2l4.4 4.4m0 -4.4l-4.4 4.4M503.20 37.76h6m-3 -3v6m-2.2 -5.2l4.4 4.4m0 -4.4l-4.4 4.4M504.70 37.47h6m-3 -3v6m-2.2 -5.2l4.4 4.4m0 -4.4l-4.4 4.4M506.19 36.67h6m-3 -3v6m-2.2 -5.2l4.4 4.4m0 -4.4l-4.4 4.4M507.69 37.07h6m-3 -3v6m-2.2 -5.2l4.4 4.4m0 -4.4l-4.4 4.4M509.18 38.56h6m-3 -3v6m-2.2 -5.2l4.4 4.4m0 -4.4l-4.4 4.4M510.68 40.50h6m-3 -3v6m-2.2 -5.2l4.4 4.4m0 -4.4l-4.4 4.4M512.18 39.72h6m-3 -3v6m-2.2 -5.2l4.4 4.4m0 -4.4l-4.4 4.4M513.67 40.09h6m-3 -3v6m-2.2 -5.2l4.4 4.4m0 -4.4l-4.4 4.4M515.17 39.66h6m-3 -3v6m-2.2 -5.2l4.4 4.4m0 -4.4l-4.4 4.4M516.67 35.50h6m-3 -3v6m-2.2 -5.2l4.4 4.4m0 -4.4l-4.4 4.4M518.16 37.74h6m-3 -3v6m-2.2 -5.2l4.4 4.4m0 -4.4l-4.4 4.4M519.66 39.33h6m-3 -3v6m-2.2 -5.2l4.4 4.4m0 -4.4l-4.4 4.4M521.16 39.42h6m-3 -3v6m-2.2 -5.2l4.4 4.4m0 -4.4l-4.4 4.4M522.65 36.67h6m-3 -3v6m-2.2 -5.2l4.4 4.4m0 -4.4l-4.4 4.4M524.15 33.11h6m-3 -3v6m-2.2 -5.2l4.4 4.4m0 -4.4l-4.4 4.4M525.65 39.65h6m-3 -3v6m-2.2 -5.2l4.4 4.4m0 -4.4l-4.4 4.4M527.14 36.28h6m-3 -3v6m-2.2 -5.2l4.4 4.4m0 -4.4l-4.4 4.4M528.64 39.28h6m-3 -3v6m-2.2 -5.2l4.4 4.4m0 -4.4l-4.4 4.4M530.14 37.84h6m-3 -3v6m-2.2 -5.2l4.4 4.4m0 -4.4l-4.4 4.4M531.63 37.06h6m-3 -3v6m-2.2 -5.2l4.4 4.4m0 -4.4l-4.4 4.4M533.13 39.91h6m-3 -3v6m-2.2 -5.2l4.4 4.4m0 -4.4l-4.4 4.4M534.63 36.68h6m-3 -3v6m-2.2 -5.2l4.4 4.4m0 -4.4l-4.4 4.4M536.12 34.44h6m-3 -3v6m-2.2 -5.2l4.4 4.4m0 -4.4l-4.4 4.4M537.62 37.82h6m-3 -3v6m-2.2 -5.2l4.4 4.4m0 -4.4l-4.4 4.4M539.12 40.01h6m-3 -3v6m-2.2 -5.2l4.4 4.4m0 -4.4l-4.4 4.4M540.61 40.99h6m-3 -3v6m-2.2 -5.2l4.4 4.4m0 -4.4l-4.4 4.4M542.11 37.70h6m-3 -3v6m-2.2 -5.2l4.4 4.4m0 -4.4l-4.4 4.4M543.60 37.40h6m-3 -3v6m-2.2 -5.2l4.4 4.4m0 -4.4l-4.4 4.4M545.10 36.30h6m-3 -3v6m-2.2 -5.2l4.4 4.4m0 -4.4l-4.4 4.4M546.60 37.68h6m-3 -3v6m-2.2 -5.2l4.4 4.4m0 -4.4l-4.4 4.4M548.09 37.95h6m-3 -3v6m-2.2 -5.2l4.4 4.4m0 -4.4l-4.4 4.4M549.59 38.41h6m-3 -3v6m-2.2 -5.2l4.4 4.4m0 -4.4l-4.4 4.4M551.09 37.83h6m-3 -3v6m-2.2 -5.2l4.4 4.4m0 -4.4l-4.4 4.4M552.58 36.43h6m-3 -3v6m-2.2 -5.2l4.4 4.4m0 -4.4l-4.4 4.4M554.08 37.27h6m-3 -3v6m-2.2 -5.2l4.4 4.4m0 -4.4l-4.4 4.4M555.58 35.86h6m-3 -3v6m-2.2 -5.2l4.4 4.4m0 -4.4l-4.4 4.4M557.07 42.57h6m-3 -3v6m-2.2 -5.2l4.4 4.4m0 -4.4l-4.4 4.4M558.57 35.32h6m-3 -3v6m-2.2 -5.2l4.4 4.4m0 -4.4l-4.4 4.4M560.07 39.24h6m-3 -3v6m-2.2 -5.2l4.4 4.4m0 -4.4l-4.4 4.4M561.56 33.98h6m-3 -3v6m-2.2 -5.2l4.4 4.4m0 -4.4l-4.4 4.4M563.06 35.41h6m-3 -3v6m-2.2 -5.2l4.4 4.4m0 -4.4l-4.4 4.4M564.56 38.05h6m-3 -3v6m-2.2 -5.2l4.4 4.4m0 -4.4l-4.4 4.4M566.05 34.63h6m-3 -3v6m-2.2 -5.2l4.4 4.4m0 -4.4l-4.4 4.4M567.55 36.19h6m-3 -3v6m-2.2 -5.2l4.4 4.4m0 -4.4l-4.4 4.4M569.04 32.52h6m-3 -3v6m-2.2 -5.2l4.4 4.4m0 -4.4l-4.4 4.4M570.54 38.06h6m-3 -3v6m-2.2 -5.2l4.4 4.4m0 -4.4l-4.4 4.4M572.04 38.53h6m-3 -3v6m-2.2 -5.2l4.4 4.4m0 -4.4l-4.4 4.4M573.53 36.10h6m-3 -3v6m-2.2 -5.2l4.4 4.4m0 -4.4l-4.4 4.4M575.03 34.00h6m-3 -3v6m-2.2 -5.2l4.4 4.4m0 -4.4l-4.4 4.4M576.53 36.47h6m-3 -3v6m-2.2 -5.2l4.4 4.4m0 -4.4l-4.4 4.4M578.02 34.85h6m-3 -3v6m-2.2 -5.2l4.4 4.4m0 -4.4l-4.4 4.4M579.52 33.76h6m-3 -3v6m-2.2 -5.2l4.4 4.4m0 -4.4l-4.4 4.4M581.02 38.12h6m-3 -3v6m-2.2 -5.2l4.4 4.4m0 -4.4l-4.4 4.4M582.51 35.95h6m-3 -3v6m-2.2 -5.2l4.4 4.4m0 -4.4l-4.4 4.4M584.01 36.93h6m-3 -3v6m-2.2 -5.2l4.4 4.4m0 -4.4l-4.4 4.4M585.51 38.64h6m-3 -3v6m-2.2 -5.2l4.4 4.4m0 -4.4l-4.4 4.4M587.00 39.62h6m-3 -3v6m-2.2 -5.2l4.4 4.4m0 -4.4l-4.4 4.4M588.50 36.23h6m-3 -3v6m-2.2 -5.2l4.4 4.4m0 -4.4l-4.4 4.4M590.00 35.26h6m-3 -3v6m-2.2 -5.2l4.4 4.4m0 -4.4l-4.4 4.4M591.49 37.00h6m-3 -3v6m-2.2 -5.2l4.4 4.4m0 -4.4l-4.4 4.4M592.99 35.84h6m-3 -3v6m-2.2 -5.2l4.4 4.4m0 -4.4l-4.4 4.4M594.49 34.40h6m-3 -3v6m-2.2 -5.2l4.4 4.4m0 -4.4l-4.4 4.4M595.98 34.96h6m-3 -3v6m-2.2 -5.2l4.4 4.4m0 -4.4l-4.4 4.4M597.48 33.98h6m-3 -3v6m-2.2 -5.2l4.4 4.4m0 -4.4l-4.4 4.4M598.97 34.66h6m-3 -3v6m-2.2 -5.2l4.4 4.4m0 -4.4l-4.4 4.4M600.47 34.36h6m-3 -3v6m-2.2 -5.2l4.4 4.4m0 -4.4l-4.4 4.4M601.97 33.64h6m-3 -3v6m-2.2 -5.2l4.4 4.4m0 -4.4l-4.4 4.4M603.46 34.15h6m-3 -3v6m-2.2 -5.2l4.4 4.4m0 -4.4l-4.4 4.4M604.96 35.32h6m-3 -3v6m-2.2 -5.2l4.4 4.4m0 -4.4l-4.4 4.4M606.46 34.66h6m-3 -3v6m-2.2 -5.2l4.4 4.4m0 -4.4l-4.4 4.4M607.95 37.70h6m-3 -3v6m-2.2 -5.2l4.4 4.4m0 -4.4l-4.4 4.4M609.45 32.52h6m-3 -3v6m-2.2 -5.2l4.4 4.4m0 -4.4l-4.4 4.4M610.95 34.19h6m-3 -3v6m-2.2 -5.2l4.4 4.4m0 -4.4l-4.4 4.4M612.44 34.00h6m-3 -3v6m-2.2 -5.2l4.4 4.4m0 -4.4l-4.4 4.4M613.94 33.59h6m-3 -3v6m-2.2 -5.2l4.4 4.4m0 -4.4l-4.4 4.4M615.44 35.82h6m-3 -3v6m-2.2 -5.2l4.4 4.4m0 -4.4l-4.4 4.4M616.93 38.32h6m-3 -3v6m-2.2 -5.2l4.4 4.4m0 -4.4l-4.4 4.4M618.43 33.58h6m-3 -3v6m-2.2 -5.2l4.4 4.4m0 -4.4l-4.4 4.4M619.93 33.57h6m-3 -3v6m-2.2 -5.2l4.4 4.4m0 -4.4l-4.4 4.4M621.42 37.34h6m-3 -3v6m-2.2 -5.2l4.4 4.4m0 -4.4l-4.4 4.4M622.92 33.56h6m-3 -3v6m-2.2 -5.2l4.4 4.4m0 -4.4l-4.4 4.4M624.42 35.85h6m-3 -3v6m-2.2 -5.2l4.4 4.4m0 -4.4l-4.4 4.4M625.91 39.53h6m-3 -3v6m-2.2 -5.2l4.4 4.4m0 -4.4l-4.4 4.4M627.41 37.21h6m-3 -3v6m-2.2 -5.2l4.4 4.4m0 -4.4l-4.4 4.4M628.90 32.52h6m-3 -3v6m-2.2 -5.2l4.4 4.4m0 -4.4l-4.4 4.4M630.40 33.53h6m-3 -3v6m-2.2 -5.2l4.4 4.4m0 -4.4l-4.4 4.4M631.90 37.00h6m-3 -3v6m-2.2 -5.2l4.4 4.4m0 -4.4l-4.4 4.4M633.39 39.62h6m-3 -3v6m-2.2 -5.2l4.4 4.4m0 -4.4l-4.4 4.4M634.89 36.44h6m-3 -3v6m-2.2 -5.2l4.4 4.4m0 -4.4l-4.4 4.4M636.39 36.77h6m-3 -3v6m-2.2 -5.2l4.4 4.4m0 -4.4l-4.4 4.4M637.88 37.56h6m-3 -3v6m-2.2 -5.2l4.4 4.4m0 -4.4l-4.4 4.4M639.38 35.23h6m-3 -3v6m-2.2 -5.2l4.4 4.4m0 -4.4l-4.4 4.4M640.88 33.49h6m-3 -3v6m-2.2 -5.2l4.4 4.4m0 -4.4l-4.4 4.4M642.37 34.42h6m-3 -3v6m-2.2 -5.2l4.4 4.4m0 -4.4l-4.4 4.4M643.87 37.63h6m-3 -3v6m-2.2 -5.2l4.4 4.4m0 -4.4l-4.4 4.4M645.37 42.57h6m-3 -3v6m-2.2 -5.2l4.4 4.4m0 -4.4l-4.4 4.4M646.86 35.87h6m-3 -3v6m-2.2 -5.2l4.4 4.4m0 -4.4l-4.4 4.4M648.36 37.15h6m-3 -3v6m-2.2 -5.2l4.4 4.4m0 -4.4l-4.4 4.4M649.86 37.44h6m-3 -3v6m-2.2 -5.2l4.4 4.4m0 -4.4l-4.4 4.4M651.35 38.57h6m-3 -3v6m-2.2 -5.2l4.4 4.4m0 -4.4l-4.4 4.4M652.85 33.44h6m-3 -3v6m-2.2 -5.2l4.4 4.4m0 -4.4l-4.4 4.4M654.35 33.59h6m-3 -3v6m-2.2 -5.2l4.4 4.4m0 -4.4l-4.4 4.4M655.84 37.04h6m-3 -3v6m-2.2 -5.2l4.4 4.4m0 -4.4l-4.4 4.4M657.34 32.22h6m-3 -3v6m-2.2 -5.2l4.4 4.4m0 -4.4l-4.4 4.4M658.84 33.42h6m-3 -3v6m-2.2 -5.2l4.4 4.4m0 -4.4l-4.4 4.4M660.33 39.97h6m-3 -3v6m-2.2 -5.2l4.4 4.4m0 -4.4l-4.4 4.4M661.83 37.28h6m-3 -3v6m-2.2 -5.2l4.4 4.4m0 -4.4l-4.4 4.4M663.32 36.27h6m-3 -3v6m-2.2 -5.2l4.4 4.4m0 -4.4l-4.4 4.4M664.82 34.42h6m-3 -3v6m-2.2 -5.2l4.4 4.4m0 -4.4l-4.4 4.4M666.32 35.66h6m-3 -3v6m-2.2 -5.2l4.4 4.4m0 -4.4l-4.4 4.4M667.81 36.00h6m-3 -3v6m-2.2 -5.2l4.4 4.4m0 -4.4l-4.4 4.4M669.31 35.23h6m-3 -3v6m-2.2 -5.2l4.4 4.4m0 -4.4l-4.4 4.4M670.81 33.37h6m-3 -3v6m-2.2 -5.2l4.4 4.4m0 -4.4l-4.4 4.4M672.30 33.37h6m-3 -3v6m-2.2 -5.2l4.4 4.4m0 -4.4l-4.4 4.4M673.80 35.96h6m-3 -3v6m-2.2 -5.2l4.4 4.4m0 -4.4l-4.4 4.4" fill="none" stroke="#ff0000" stroke-width="0.85"/>
<rect x="377.5" y="13.6" width="299.30" height="236.50" fill="none" stroke="#4a4a4a" stroke-width="1.15"/>
<path d="M377.50 250.10v-3M377.50 13.60v3M407.43 250.10v-3M407.43 13.60v3M437.36 250.10v-3M437.36 13.60v3M467.29 250.10v-3M467.29 13.60v3M497.22 250.10v-3M497.22 13.60v3M527.15 250.10v-3M527.15 13.60v3M557.08 250.10v-3M557.08 13.60v3M587.01 250.10v-3M587.01 13.60v3M616.94 250.10v-3M616.94 13.60v3M646.87 250.10v-3M646.87 13.60v3M676.80 250.10v-3M676.80 13.60v3M377.50 250.10h3M676.80 250.10h-3M377.50 220.54h3M676.80 220.54h-3M377.50 190.97h3M676.80 190.97h-3M377.50 161.41h3M676.80 161.41h-3M377.50 131.85h3M676.80 131.85h-3M377.50 102.29h3M676.80 102.29h-3M377.50 72.72h3M676.80 72.72h-3M377.50 43.16h3M676.80 43.16h-3M377.50 13.60h3M676.80 13.60h-3" stroke="#4a4a4a" stroke-width="1.1" fill="none"/>
<text transform="translate(377.50 263.3) scale(1 1.04)" class="tl" text-anchor="middle">0</text>
<text transform="translate(407.43 263.3) scale(1 1.04)" class="tl" text-anchor="middle">20</text>
<text transform="translate(437.36 263.3) scale(1 1.04)" class="tl" text-anchor="middle">40</text>
<text transform="translate(467.29 263.3) scale(1 1.04)" class="tl" text-anchor="middle">60</text>
<text transform="translate(497.22 263.3) scale(1 1.04)" class="tl" text-anchor="middle">80</text>
<text transform="translate(527.15 263.3) scale(1 1.04)" class="tl" text-anchor="middle">100</text>
<text transform="translate(557.08 263.3) scale(1 1.04)" class="tl" text-anchor="middle">120</text>
<text transform="translate(587.01 263.3) scale(1 1.04)" class="tl" text-anchor="middle">140</text>
<text transform="translate(616.94 263.3) scale(1 1.04)" class="tl" text-anchor="middle">160</text>
<text transform="translate(646.87 263.3) scale(1 1.04)" class="tl" text-anchor="middle">180</text>
<text transform="translate(676.80 263.3) scale(1 1.04)" class="tl" text-anchor="middle">200</text>
<text transform="translate(373.20 254.10) scale(1 1.04)" class="tl" text-anchor="end">1</text>
<text transform="translate(373.20 224.54) scale(1 1.04)" class="tl" text-anchor="end">2</text>
<text transform="translate(373.20 194.97) scale(1 1.04)" class="tl" text-anchor="end">3</text>
<text transform="translate(373.20 165.41) scale(1 1.04)" class="tl" text-anchor="end">4</text>
<text transform="translate(373.20 135.85) scale(1 1.04)" class="tl" text-anchor="end">5</text>
<text transform="translate(373.20 106.29) scale(1 1.04)" class="tl" text-anchor="end">6</text>
<text transform="translate(373.20 76.72) scale(1 1.04)" class="tl" text-anchor="end">7</text>
<text transform="translate(373.20 47.16) scale(1 1.04)" class="tl" text-anchor="end">8</text>
<text transform="translate(373.20 17.60) scale(1 1.04)" class="tl" text-anchor="end">9</text>
<text x="378.40" y="12.4" class="tl" style="font-size:9.4px;fill:#333">×</text>
<text transform="translate(385.40 11.6) scale(1.02 1.08)" class="tl">10</text>
<text transform="translate(395.00 7.3) scale(1 1.02)" class="tl" style="font-size:7.4px">-4</text>
<text x="527.15" y="277.6" class="lab" text-anchor="middle">Generation</text>
<text transform="translate(363.2 132.25) rotate(-90)" class="lab" text-anchor="middle">Fitness Value of right equation for radon exhalation</text>
<text x="528.0" y="301.4" class="cap" text-anchor="middle">(b)</text>
<rect x="612.5" y="48.4" width="57.40" height="24.50" fill="#fff" stroke="#4a4a4a" stroke-width="1"/>
<path d="M615.40 55.00H643.30" stroke="#00ff00" stroke-width="0.8"/>
<path d="M626.00 53.10h6.40l-3.20 5.80z" fill="none" stroke="#00ff00" stroke-width="0.75"/>
<path d="M615.40 66.00H643.30" stroke="#ff0000" stroke-width="0.8"/>
<path d="M626.60 66.00h5.2m-2.6 -2.6v5.2m-1.9 -4.5l3.8 3.8m0 -3.8l-3.8 3.8" fill="none" stroke="#ff0000" stroke-width="0.9"/>
<text x="645.40" y="58.80" class="lg">best</text>
<text x="645.40" y="70.00" class="lg">mean</text>
</svg>
</body></html>
